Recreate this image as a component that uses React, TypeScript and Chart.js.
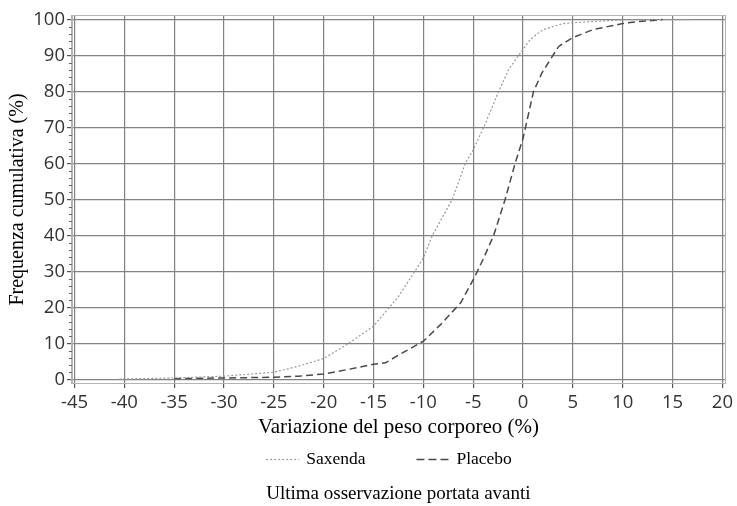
import React, { useEffect, useRef } from "react";
import { Chart, registerables } from "chart.js";

Chart.register(...registerables);

const seriesNames = ["Saxenda", "Placebo"];

// Weight change (%) and cumulative frequency (%)
const saxendaChange = [-40.5, -35, -30, -25, -22.5, -20, -17.5, -15, -12.5, -10, -9.1, -7.1, -5.8, -5, -3.95, -2.45, -1.45, -0.45, 0.7, 2, 4, 6, 8, 10.3, 17];
const saxendaFreq = [0.1, 0.4, 0.9, 2.0, 3.7, 5.8, 10.0, 14.8, 23.0, 33.7, 40, 50, 60, 63.8, 70, 80, 86.1, 90, 94.4, 97.2, 98.9, 99.3, 99.6, 100, 100];

const placeboChange = [-35, -30, -25, -22.5, -20, -17.5, -15, -13.8, -12.4, -10, -8.25, -6.25, -4.9, -3.95, -2.95, -1.8, -0.8, 0, 1.05, 1.9, 2.94, 3.6, 5, 7, 10, 11.6, 13.3, 14];
const placeboFreq = [0.2, 0.4, 0.6, 0.9, 1.5, 2.8, 4.2, 4.6, 6.9, 10.6, 15.3, 21.3, 28.2, 33.7, 40, 50, 60, 67, 80, 85.2, 89.8, 92.6, 95, 97.2, 98.9, 99.5, 99.8, 100];

const xTicks = [-45, -40, -35, -30, -25, -20, -15, -10, -5, 0, 5, 10, 15, 20];
const yTicks = [0, 10, 20, 30, 40, 50, 60, 70, 80, 90, 100];
const yMinorTicks = [2, 4, 6, 8, 12, 14, 16, 18, 22, 24, 26, 28, 32, 34, 36, 38, 42, 44, 46, 48, 52, 54, 56, 58, 62, 64, 66, 68, 72, 74, 76, 78, 82, 84, 86, 88, 92, 94, 96, 98];

const xTitle = "Variazione del peso corporeo (%)";
const yTitle = "Frequenza cumulativa (%)";
const caption = "Ultima osservazione portata avanti";

const SERIF = '"Liberation Serif", "Times New Roman", serif';
const SANS = '"Open Sans", "DejaVu Sans", sans-serif';

const decorPlugin = {
  id: "decor",
  beforeDatasetsDraw(chart: any) {
    const { ctx, chartArea } = chart;
    ctx.save();
    ctx.strokeStyle = "#b4b4b4";
    ctx.lineWidth = 1;
    ctx.strokeRect(Math.round(chartArea.left) - 0.5, Math.round(chartArea.top) - 0.5, Math.round(chartArea.right - chartArea.left) + 1, Math.round(chartArea.bottom - chartArea.top) + 1);
    // minor ticks on y axis
    const y = chart.scales.y;
    ctx.strokeStyle = "#666";
    ctx.beginPath();
    yMinorTicks.forEach((v) => {
      const py = Math.round(y.getPixelForValue(v)) + 0.5;
      ctx.moveTo(chartArea.left - 3, py);
      ctx.lineTo(chartArea.left, py);
    });
    ctx.stroke();
    ctx.restore();
  },
  afterDraw(chart: any) {
    const { ctx, chartArea } = chart;
    ctx.save();
    ctx.fillStyle = "#000";
    ctx.textBaseline = "alphabetic";
    // legend
    ctx.font = `17.5px ${SERIF}`;
    const sample = 33;
    const gapText = 7;
    const gapItem = 51;
    const widths = seriesNames.map((n) => ctx.measureText(n).width);
    const total = widths.reduce((a, w) => a + sample + gapText + w, 0) + gapItem * (seriesNames.length - 1);
    let x = 389 - total / 2;
    const baseY = 464;
    chart.data.datasets.forEach((ds: any, i: number) => {
      ctx.save();
      ctx.strokeStyle = ds.borderColor;
      ctx.lineWidth = ds.borderWidth;
      ctx.setLineDash(i === 0 ? [2, 2] : [8, 4]);
      ctx.beginPath();
      ctx.moveTo(x, 459.5);
      ctx.lineTo(x + sample, 459.5);
      ctx.stroke();
      ctx.restore();
      ctx.fillText(ds.label, x + sample + gapText, baseY);
      x += sample + gapText + widths[i] + gapItem;
    });
    // caption
    ctx.font = `19px ${SERIF}`;
    ctx.textAlign = "center";
    ctx.fillText(caption, (chartArea.left + chartArea.right) / 2, 499);
    ctx.restore();
  },
};

export default function App() {
  const ref = useRef<HTMLCanvasElement | null>(null);
  useEffect(() => {
    if (!ref.current) return;
    document.body.style.margin = "0";
    const chart = new Chart(ref.current, {
      type: "line",
      data: {
        datasets: [
          {
            label: seriesNames[0],
            data: saxendaChange.map((x, i) => ({ x, y: saxendaFreq[i] })),
            borderColor: "#999999",
            borderWidth: 1.2,
            borderDash: [2, 2],
            pointRadius: 0,
            tension: 0,
            fill: false,
          },
          {
            label: seriesNames[1],
            data: placeboChange.map((x, i) => ({ x, y: placeboFreq[i] })),
            borderColor: "#4a4a4a",
            borderWidth: 1.5,
            borderDash: [7, 4],
            pointRadius: 0,
            tension: 0,
            fill: false,
          },
        ],
      },
      options: {
        animation: false,
        responsive: false,
        devicePixelRatio: 1,
        layout: { padding: { top: 16, right: 10, bottom: 66, left: 0 } },
        plugins: { legend: { display: false }, tooltip: { enabled: false }, title: { display: false } },
        scales: {
          x: {
            type: "linear",
            min: -45.25,
            max: 20.25,
            afterBuildTicks: (s: any) => {
              s.ticks = xTicks.map((v) => ({ value: v }));
            },
            afterFit: (s: any) => {
              s.height = 57;
            },
            grid: { color: "#828282", lineWidth: 1.2, tickColor: "#555", tickLength: 5 },
            border: { display: true, color: "#b4b4b4" },
            ticks: { font: { family: SANS, size: 18.5 }, color: "#333", padding: 4, maxRotation: 0, autoSkip: false },
            title: { display: true, text: xTitle, font: { family: SERIF, size: 21 }, color: "#000", padding: { top: 0, bottom: 0 } },
          },
          y: {
            type: "linear",
            min: -1,
            max: 101,
            afterBuildTicks: (s: any) => {
              s.ticks = yTicks.map((v) => ({ value: v }));
            },
            afterFit: (s: any) => {
              s.width = 72;
            },
            grid: { color: "#828282", lineWidth: 1.2, tickColor: "#555", tickLength: 5 },
            border: { display: true, color: "#b4b4b4" },
            ticks: { font: { family: SANS, size: 18.5 }, color: "#333", padding: 2, autoSkip: false },
            title: { display: true, text: yTitle, font: { family: SERIF, size: 20 }, color: "#000", padding: { top: 6, bottom: 0 } },
          },
        },
      },
      plugins: [decorPlugin],
    });
    return () => chart.destroy();
  }, []);
  return (
    <div style={{ position: "absolute", left: 0, top: 0, width: 737, height: 506, background: "#fff" }}>
      <canvas ref={ref} width={737} height={506} style={{ display: "block" }} />
    </div>
  );
}
